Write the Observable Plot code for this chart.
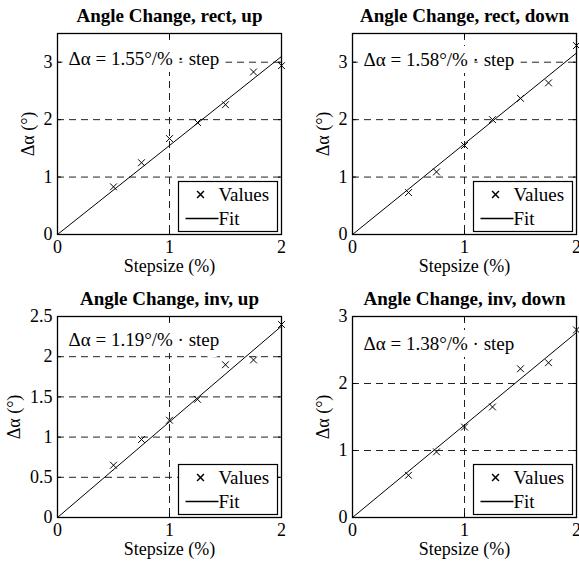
<!DOCTYPE html>
<html><head><meta charset="utf-8">
<script src="https://cdn.jsdelivr.net/npm/d3@7"></script>
<script src="https://cdn.jsdelivr.net/npm/@observablehq/plot@0.6"></script>
<style>
html,body{margin:0;padding:0;background:#fff;}
body{width:579px;height:566px;overflow:hidden;position:relative;font-family:'Liberation Serif',serif;}
.panel{position:absolute;width:290px;height:283px;}
</style></head><body>
<div id="root"></div>
<script>
// ---- data ----
const stepsizes = [0.5, 0.75, 1, 1.25, 1.5, 1.75, 2];
const titles = ["Angle Change, rect, up", "Angle Change, rect, down", "Angle Change, inv, up", "Angle Change, inv, down"];
const rectUp   = [0.83, 1.25, 1.67, 1.95, 2.26, 2.83, 2.94];
const rectDown = [0.73, 1.09, 1.55, 2.00, 2.37, 2.64, 3.29];
const invUp    = [0.65, 0.97, 1.21, 1.47, 1.90, 1.96, 2.40];
const invDown  = [0.63, 0.98, 1.35, 1.65, 2.22, 2.31, 2.80];
const slopes = [1.55, 1.58, 1.19, 1.38];
const yMax = [3.5, 3.5, 2.5, 3];
const yTicks = [[0, 1, 2, 3], [0, 1, 2, 3], [0, 0.5, 1, 1.5, 2, 2.5], [0, 1, 2, 3]];
const xTicks = [0, 1, 2];
const xLabel = "Stepsize (%)";
const yLabel = "Δα (°)";
const legendLabels = ["Values", "Fit"];
const series = [rectUp, rectDown, invUp, invDown];

const positions = [[0, 0], [290, 0], [0, 283], [290, 283]];
const yLabelDx = [-29, -29, -43, -29];
const annotDy = [25, 26, 23, 27];
const lineSymbol = {draw(ctx) { ctx.moveTo(-16.5, 0); ctx.lineTo(16.5, 0); }};
const fmt = d => `${d}`;
const serif = "'Liberation Serif', serif";

series.forEach((vals, i) => {
  const pts = stepsizes.map((x, j) => ({x, y: vals[j]}));
  const fit = [0, 2].map(x => ({x, y: slopes[i] * x}));
  const left = i % 2 === 0 ? 57 : 62;
  const annot = `Δα = ${slopes[i].toFixed(2)}°/% · step`;
  const svg = Plot.plot({
    width: 290, height: 283,
    marginLeft: left, marginRight: 290 - left - 224, marginTop: 33, marginBottom: 49,
    style: {fontFamily: serif, fontSize: "18px", color: "black", background: "transparent", overflow: "visible"},
    x: {domain: [0, 2]},
    y: {domain: [0, yMax[i]]},
    marks: [
      Plot.gridY(yTicks[i], {stroke: "#222", strokeOpacity: 1, strokeDasharray: "7,5"}),
      Plot.gridX([1], {stroke: "#222", strokeOpacity: 1, strokeDasharray: "7,5"}),
      Plot.text([annot], {frameAnchor: "top-left", dx: 11, dy: annotDy[i], textAnchor: "start", lineAnchor: "middle", fontSize: 19,
        fill: "black", stroke: "white", strokeWidth: 14, strokeLinejoin: "round", ariaLabel: "annotation"}),
      Plot.line(fit, {x: "x", y: "y", stroke: "black", strokeWidth: 1}),
      Plot.dot(pts, {x: "x", y: "y", symbol: "times", r: 3.2, stroke: "black", strokeWidth: 1}),
      // legend
      Plot.frame({fill: "white", stroke: "black", strokeWidth: 1.2, insetLeft: 121, insetTop: 148, insetRight: 4, insetBottom: 3}),
      Plot.dot([legendLabels[0]], {frameAnchor: "bottom-right", dx: -81, dy: -40, symbol: "times", r: 3.2, stroke: "black"}),
      Plot.dot([legendLabels[1]], {frameAnchor: "bottom-right", dx: -79.5, dy: -16, symbol: lineSymbol, r: 1, stroke: "black", fill: "none"}),
      Plot.text([legendLabels[0]], {frameAnchor: "bottom-right", dx: -63, dy: -40, textAnchor: "start", lineAnchor: "middle", fontSize: 19}),
      Plot.text([legendLabels[1]], {frameAnchor: "bottom-right", dx: -63, dy: -16, textAnchor: "start", lineAnchor: "middle", fontSize: 19}),
      Plot.frame({stroke: "black", strokeWidth: 1.3}),
      // inner ticks
      Plot.axisX(xTicks, {anchor: "bottom", tickSize: -4, tickFormat: () => "", label: null}),
      Plot.axisX(xTicks, {anchor: "top", tickSize: -4, tickFormat: () => "", label: null}),
      Plot.axisY(yTicks[i], {anchor: "left", tickSize: -4, tickFormat: () => "", label: null}),
      Plot.axisY(yTicks[i], {anchor: "right", tickSize: -4, tickFormat: () => "", label: null}),
      // tick labels
      Plot.axisX(xTicks, {anchor: "bottom", tickSize: 0, tickPadding: 6, tickFormat: fmt, label: null}),
      Plot.axisY(yTicks[i], {anchor: "left", tickSize: 0, tickPadding: 5, tickFormat: fmt, label: null}),
      Plot.text([xLabel], {frameAnchor: "bottom", dy: 32, lineAnchor: "middle"}),
      Plot.text([yLabel], {frameAnchor: "left", dx: yLabelDx[i], rotate: -90, lineAnchor: "middle", textAnchor: "middle", ariaLabel: "ylabel"}),
      Plot.text([titles[i]], {frameAnchor: "top", dy: -18, lineAnchor: "middle", fontWeight: "bold", fontSize: 19})
    ]
  });
  // italic math parts
  d3.select(svg).selectAll("g[aria-label='annotation'] text").each(function() {
    const t = d3.select(this); t.text("");
    t.append("tspan").attr("font-style", "italic").text("Δα");
    t.append("tspan").text(` = ${slopes[i].toFixed(2)}°/% · `);
    t.append("tspan").attr("font-style", "italic").text("step");
  });
  d3.select(svg).selectAll("g[aria-label='ylabel'] text").each(function() {
    const t = d3.select(this); t.text("");
    t.append("tspan").attr("font-style", "italic").text("Δα");
    t.append("tspan").text(" (°)");
  });
  const div = document.createElement("div");
  div.className = "panel";
  div.style.left = positions[i][0] + "px";
  div.style.top = positions[i][1] + "px";
  div.appendChild(svg);
  document.getElementById("root").appendChild(div);
});
</script>
</body></html>
